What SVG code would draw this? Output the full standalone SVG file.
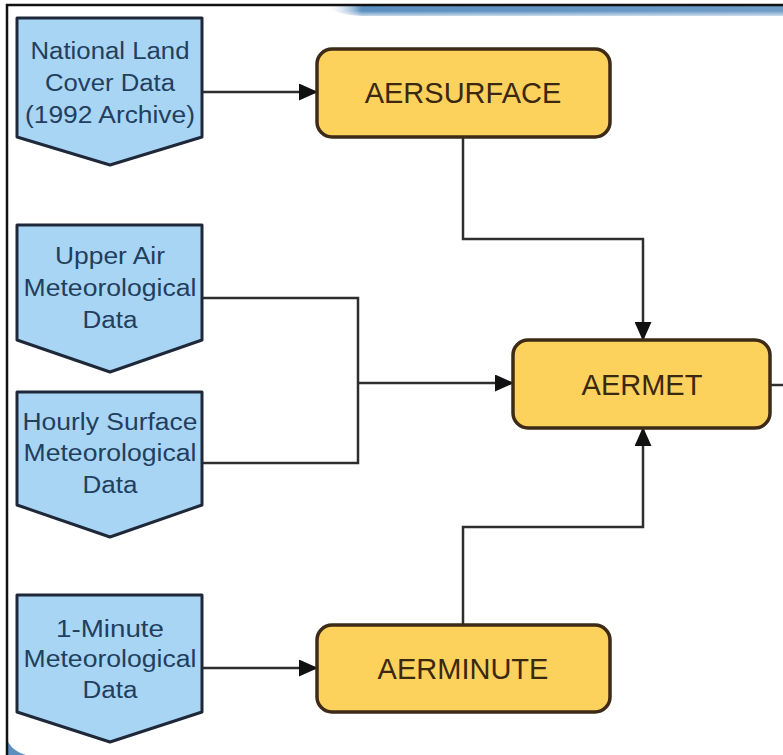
<svg xmlns="http://www.w3.org/2000/svg" width="783" height="755" viewBox="0 0 783 755">
<defs>
<style>
.src{fill:#a9d5f5;stroke:#1e2838;stroke-width:3;stroke-linejoin:round}
.proc{fill:#fdd25c;stroke:#3d2b17;stroke-width:3.5}
.bt{font-family:"Liberation Sans",Arial,sans-serif;font-size:23px;fill:#223f5e;text-anchor:middle}
.ot{font-family:"Liberation Sans",Arial,sans-serif;font-size:29px;fill:#3a2810;text-anchor:middle}
.con{fill:none;stroke:#2e2e2e;stroke-width:2.5;stroke-linejoin:miter}
</style>
<marker id="ah" markerUnits="userSpaceOnUse" markerWidth="19" markerHeight="17" refX="18" refY="8.5" orient="auto">
<path d="M0,0 L19,8.5 L0,17 Z" fill="#111"/>
</marker>
<linearGradient id="bar" x1="0" y1="0" x2="1" y2="0">
<stop offset="0" stop-color="#ffffff" stop-opacity="0"/>
<stop offset="0.08" stop-color="#5a8fbf"/>
<stop offset="1" stop-color="#6f9dc8"/>
</linearGradient>
<linearGradient id="barv" x1="0" y1="0" x2="0" y2="1">
<stop offset="0" stop-color="#ffffff" stop-opacity="0"/>
<stop offset="1" stop-color="#ffffff" stop-opacity="0.8"/>
</linearGradient>
</defs>
<rect width="783" height="755" fill="#ffffff"/>
<g id="frame">
<path d="M325,6 H783 V16 H360 Q338,15 325,6 Z" fill="url(#bar)"/>
<rect x="325" y="11" width="458" height="6" fill="url(#barv)"/>
<path d="M8,742 Q14,752 26,755 H8 Z" fill="#5a8fbf"/>
<path d="M7,755 V5 H783" fill="none" stroke="#111" stroke-width="2.5"/>
</g>
<g id="connectors">
<path class="con" d="M202,92 H317" marker-end="url(#ah)"/>
<path class="con" d="M463,137 V239 H643 V340" marker-end="url(#ah)"/>
<path class="con" d="M202,298 H358 V463 H202"/>
<path class="con" d="M358,383 H513" marker-end="url(#ah)"/>
<path class="con" d="M463,625 V527 H643 V428" marker-end="url(#ah)"/>
<path class="con" d="M202,668 H317" marker-end="url(#ah)"/>
<path class="con" d="M770,385 H783"/>
</g>
<g id="nlcd">
<path class="src" d="M17,18 H202 V137 L110,165 L17,137 Z"/>
<text class="bt" x="110" y="59" textLength="159" lengthAdjust="spacingAndGlyphs">National Land</text>
<text class="bt" x="110" y="91" textLength="130" lengthAdjust="spacingAndGlyphs">Cover Data</text>
<text class="bt" x="110" y="123" textLength="170" lengthAdjust="spacingAndGlyphs">(1992 Archive)</text>
</g>
<g id="upperair">
<path class="src" d="M17,225 H202 V340 L110,372 L17,340 Z"/>
<text class="bt" x="110" y="264" textLength="110" lengthAdjust="spacingAndGlyphs">Upper Air</text>
<text class="bt" x="110" y="296" textLength="173" lengthAdjust="spacingAndGlyphs">Meteorological</text>
<text class="bt" x="110" y="328" textLength="55" lengthAdjust="spacingAndGlyphs">Data</text>
</g>
<g id="hourly">
<path class="src" d="M17,392 H202 V505 L110,537 L17,505 Z"/>
<text class="bt" x="110" y="430" textLength="175" lengthAdjust="spacingAndGlyphs">Hourly Surface</text>
<text class="bt" x="110" y="461" textLength="173" lengthAdjust="spacingAndGlyphs">Meteorological</text>
<text class="bt" x="110" y="493" textLength="55" lengthAdjust="spacingAndGlyphs">Data</text>
</g>
<g id="oneminute">
<path class="src" d="M17,595 H202 V712 L110,742 L17,712 Z"/>
<text class="bt" x="110" y="637" textLength="108" lengthAdjust="spacingAndGlyphs">1-Minute</text>
<text class="bt" x="110" y="667" textLength="173" lengthAdjust="spacingAndGlyphs">Meteorological</text>
<text class="bt" x="110" y="698" textLength="55" lengthAdjust="spacingAndGlyphs">Data</text>
</g>
<g id="aersurface">
<rect class="proc" x="317" y="49" width="293" height="88" rx="15"/>
<text class="ot" x="463" y="103">AERSURFACE</text>
</g>
<g id="aermet">
<rect class="proc" x="513" y="340" width="257" height="88" rx="15"/>
<text class="ot" x="642" y="395">AERMET</text>
</g>
<g id="aerminute">
<rect class="proc" x="317" y="625" width="293" height="87" rx="15"/>
<text class="ot" x="463" y="679">AERMINUTE</text>
</g>
</svg>
